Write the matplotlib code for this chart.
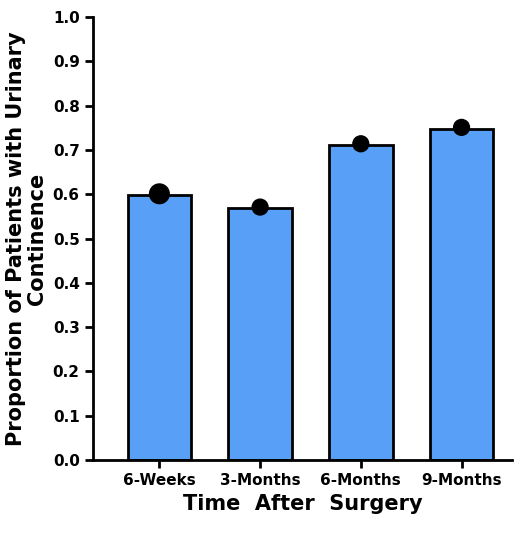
import matplotlib
matplotlib.use("Agg")
import matplotlib.pyplot as plt

categories = ["6-Weeks", "3-Months", "6-Months", "9-Months"]
bar_values = [0.598, 0.568, 0.712, 0.748]
point_values = [0.601, 0.571, 0.714, 0.751]
point_sizes = [200, 130, 130, 130]

fig = plt.figure(figsize=(5.31, 5.36), dpi=100)
ax = fig.add_axes([0.175, 0.142, 0.789, 0.826])
x = range(len(categories))
ax.bar(x, bar_values, width=0.63, color="#579ff7", edgecolor="black", linewidth=2, zorder=2)
ax.scatter(x, point_values, s=point_sizes, color="black", zorder=3)
ax.set_xlim(-0.66, 3.5)
ax.set_ylim(0, 1.0)
ax.set_yticks([i / 10 for i in range(11)])
ax.set_yticklabels([f"{i/10:.1f}" for i in range(11)])
ax.set_xticks(list(x))
ax.set_xticklabels(categories)
for s in ["top", "right"]:
    ax.spines[s].set_visible(False)
for s in ["left", "bottom"]:
    ax.spines[s].set_linewidth(2)
ax.tick_params(width=2, length=6, labelsize=11)
for lab in ax.get_xticklabels() + ax.get_yticklabels():
    lab.set_fontweight("bold")
ax.set_xlabel("Time  After  Surgery", fontsize=15, fontweight="bold")
ax.set_ylabel("Proportion of Patients with Urinary\nContinence", fontsize=15, fontweight="bold", linespacing=1.1)
fig.savefig("out.png", dpi=100)
